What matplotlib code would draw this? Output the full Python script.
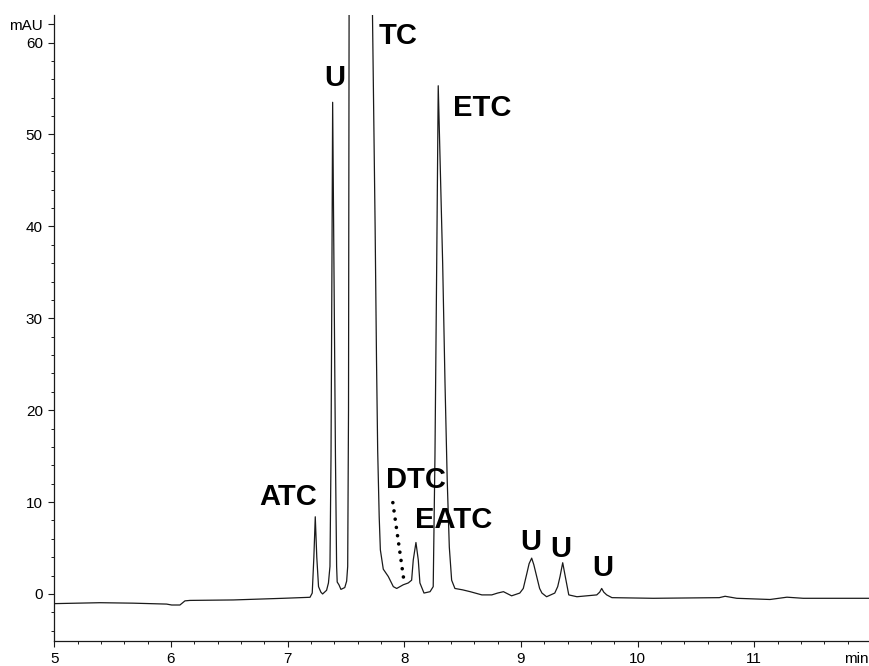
import matplotlib
matplotlib.use("Agg")
import matplotlib.pyplot as plt
from matplotlib.ticker import MultipleLocator, FixedLocator

# ---- data (time in min, signal in mAU) ----
trace_time = [
    5.000, 5.393, 5.677, 5.963, 6.006, 6.077, 6.120, 6.163, 6.534, 6.963,
    7.192, 7.211, 7.225, 7.237, 7.250, 7.265, 7.285, 7.300, 7.334, 7.350,
    7.363, 7.372, 7.380, 7.386, 7.397, 7.410, 7.420, 7.425, 7.440, 7.457,
    7.490, 7.506, 7.515, 7.522, 7.527, 7.727, 7.750, 7.762, 7.772, 7.785,
    7.795, 7.820, 7.863, 7.906, 7.935, 7.991, 8.034, 8.063, 8.077, 8.100,
    8.120, 8.134, 8.169, 8.221, 8.248, 8.263, 8.278, 8.291, 8.329, 8.349,
    8.368, 8.386, 8.406, 8.434, 8.500, 8.565, 8.665, 8.750, 8.800, 8.850,
    8.920, 8.990, 9.020, 9.050, 9.070, 9.092, 9.110, 9.135, 9.160, 9.180,
    9.220, 9.290, 9.315, 9.335, 9.358, 9.380, 9.410, 9.480, 9.565, 9.650,
    9.675, 9.692, 9.710, 9.735, 9.780, 10.135, 10.700, 10.750, 10.850,
    11.135, 11.280, 11.420, 11.992,
]
trace_signal = [
    -1.05, -0.95, -1.00, -1.10, -1.20, -1.20, -0.75, -0.70, -0.65, -0.47,
    -0.36, 0.10, 4.0, 8.4, 4.0, 0.8, 0.2, 0.0, 0.4, 1.2,
    3.0, 15.0, 36.0, 53.5, 36.0, 15.0, 3.0, 1.3, 1.0, 0.5,
    0.7, 1.4, 3.0, 20.0, 63.5, 63.5, 40.0, 25.4, 15.6, 8.4,
    4.8, 2.7, 1.9, 0.8, 0.6, 1.0, 1.2, 1.5, 3.7, 5.6,
    3.7, 1.2, 0.1, 0.25, 0.8, 15.0, 36.0, 55.3, 36.0, 23.0,
    12.4, 5.1, 1.5, 0.6, 0.45, 0.25, -0.1, -0.1, 0.1, 0.25,
    -0.2, 0.1, 0.6, 2.2, 3.3, 3.9, 3.2, 1.9, 0.6, 0.1,
    -0.3, 0.1, 0.8, 1.9, 3.4, 1.9, -0.1, -0.3, -0.2, -0.1,
    0.2, 0.6, 0.2, -0.1, -0.4, -0.47, -0.40, -0.25, -0.47,
    -0.60, -0.35, -0.47, -0.47,
]

peak_names = ["ATC", "U", "TC", "ETC", "DTC", "EATC", "U", "U", "U"]
peak_label_t = [7.005, 7.400, 7.950, 8.665, 8.100, 8.426, 9.083, 9.343, 9.703]
peak_label_v = [10.6, 56.1, 60.7, 52.9, 12.4, 8.0, 5.7, 4.87, 2.88]

dtc_marker_t = [7.902, 7.993]
dtc_marker_v = [9.94, 1.8]

y_major = [0, 10, 20, 30, 40, 50, 60]
y_labels = ["0", "10", "20", "30", "40", "50", "60"]
x_major = [5, 6, 7, 8, 9, 10, 11]
x_labels = ["5", "6", "7", "8", "9", "10", "11"]

# ---- figure ----
plt.rcParams["font.family"] = ["Liberation Sans", "DejaVu Sans"]
fig = plt.figure(figsize=(8.7, 6.66), dpi=100)
ax = fig.add_axes([0.0624, 0.0368, 0.9376, 0.9407])

ax.plot(trace_time, trace_signal, color="#1a1a1a", lw=0.9, solid_joinstyle="round")

ax.plot(dtc_marker_t, dtc_marker_v, color="black", lw=2.6,
        linestyle=(0, (0.01, 2.3)), dash_capstyle="round")

for name, t, v in zip(peak_names, peak_label_t, peak_label_v):
    ax.text(t, v, name, ha="center", va="center", fontsize=21,
            fontweight="bold", color="black")

ax.set_xlim(5, 11.992)
ax.set_ylim(-5.17, 63.0)

for s in ("top", "right"):
    ax.spines[s].set_visible(False)
for s in ("left", "bottom"):
    ax.spines[s].set_linewidth(0.9)
    ax.spines[s].set_color("#1a1a1a")

ax.yaxis.set_major_locator(FixedLocator(y_major + [62]))
ax.set_yticklabels(y_labels + ["mAU"])
ax.yaxis.set_minor_locator(MultipleLocator(2))
ax.xaxis.set_major_locator(FixedLocator(x_major))
ax.set_xticklabels(x_labels)
ax.xaxis.set_minor_locator(MultipleLocator(0.2))

ax.tick_params(axis="both", which="major", direction="out", length=4.3,
               width=0.8, labelsize=11, pad=3, color="#1a1a1a")
ax.tick_params(axis="both", which="minor", direction="out", length=2,
               width=0.7, color="#1a1a1a")
ax.tick_params(axis="y", which="major", pad=4)

ax.annotate("min", xy=(1.0, 0.0), xycoords="axes fraction",
            xytext=(-1, -7.4), textcoords="offset points",
            ha="right", va="top", fontsize=11)

fig.savefig("out.png", dpi=100)
